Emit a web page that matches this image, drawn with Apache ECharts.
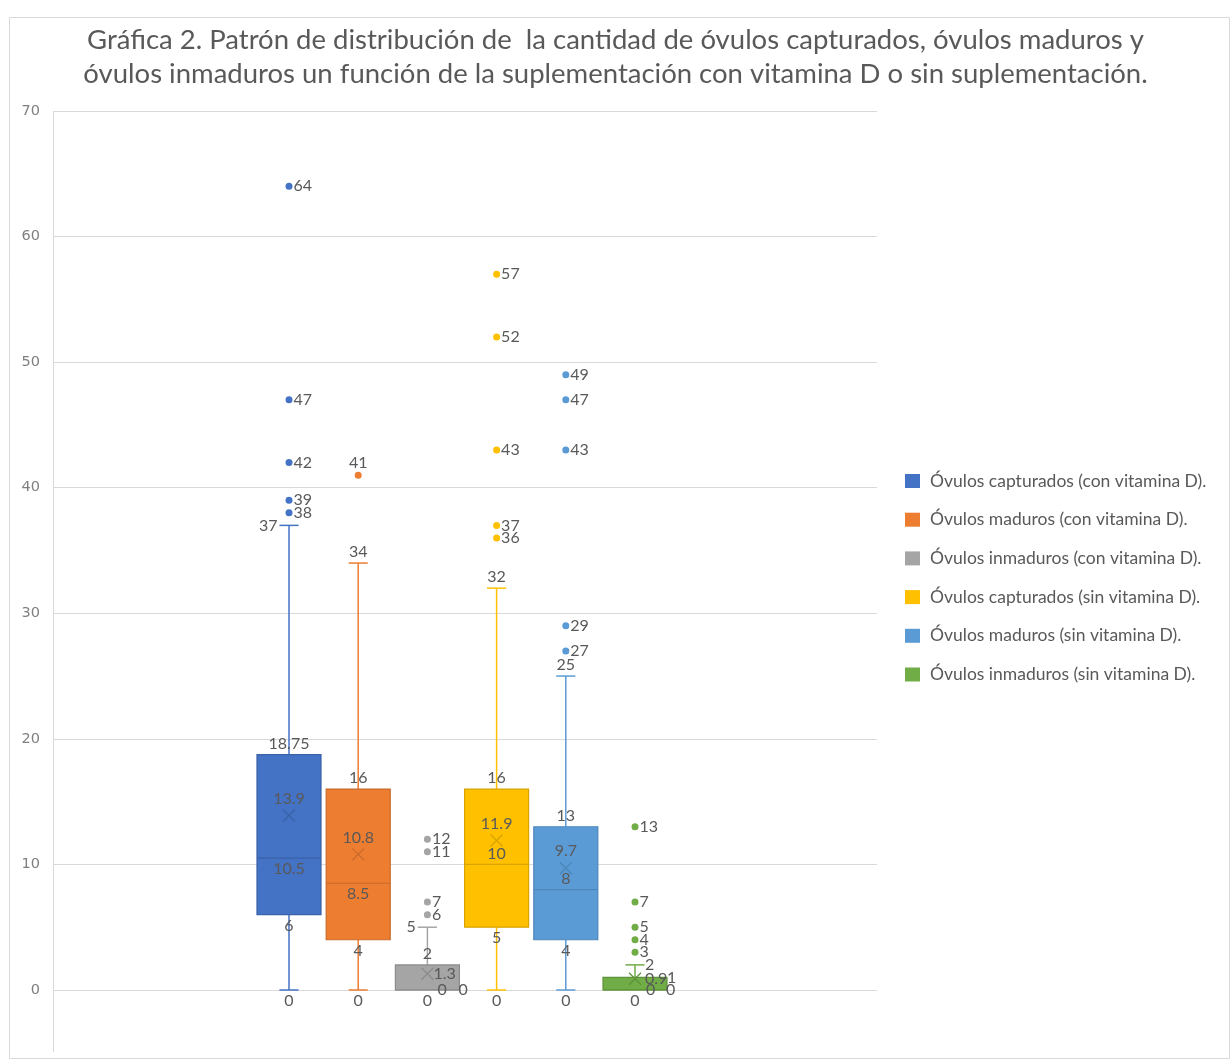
<!DOCTYPE html>
<html>
<head>
<meta charset="utf-8">
<title>Gráfica 2</title>
<script src="https://cdn.jsdelivr.net/npm/echarts@6.0.0/dist/echarts.min.js"></script>
<style>
  html, body { margin: 0; padding: 0; background: #ffffff; }
  #chart { width: 1231px; height: 1063px; }
</style>
</head>
<body>
<div id="chart"></div>
<script>
// Box groups (one per legend entry)
const groups = [
  'Óvulos capturados (con vitamina D).',
  'Óvulos maduros (con vitamina D).',
  'Óvulos inmaduros (con vitamina D).',
  'Óvulos capturados (sin vitamina D).',
  'Óvulos maduros (sin vitamina D).',
  'Óvulos inmaduros (sin vitamina D).'
];

// Five-number summaries and means per group
const whiskerLow  = [0, 0, 0, 0, 0, 0];
const quartile1   = [6, 4, 0, 5, 4, 0];
const medians     = [10.5, 8.5, 0, 10, 8, 0];
const quartile3   = [18.75, 16, 2, 16, 13, 1];
const whiskerHigh = [37, 34, 5, 32, 25, 2];
const means       = [13.9, 10.8, 1.3, 11.9, 9.7, 0.9];

// Outlying points per group
const outliers = [
  [38, 39, 42, 47, 64],
  [41],
  [6, 7, 11, 12],
  [36, 37, 43, 52, 57],
  [27, 29, 43, 47, 49],
  [3, 4, 5, 7, 13]
];

// Value axis ticks
const yMin = 0, yMax = 70, yStep = 10;

// ---- styling ----
const fills   = ['#4472C4', '#ED7D31', '#A5A5A5', '#FFC000', '#5B9BD5', '#70AD47'];
const strokes = ['#3A62A8', '#C9692A', '#8C8C8C', '#D9A400', '#4C86BA', '#5E9339'];
const labelColor = '#595959';
const labelFont = 'Lato, "Open Sans", sans-serif';

// where each statistic's label sits relative to its mark
const T = { side: 'top' }, B = { side: 'bottom' }, L = { side: 'left' };
const R = dx => ({ side: 'right', dx: dx });
const statLabelPlacement = [
  { max: L,     q3: T,     mean: { side: 'top', dy: 9 }, median: B,     q1: B,     min: B },
  { max: T,     q3: T,     mean: { side: 'top', dy: 9 }, median: B,     q1: B,     min: B },
  { max: L,     q3: T,     mean: R(6),                   median: R(10), q1: R(31), min: B },
  { max: T,     q3: T,     mean: { side: 'top', dy: 9 }, median: T,     q1: B,     min: B },
  { max: T,     q3: T,     mean: { side: 'top', dy: 9 }, median: T,     q1: B,     min: B },
  { max: R(10), q3: R(32), mean: R(10),                  median: R(11), q1: R(31), min: B }
];
const outlierLabelSide = ['right', 'top', 'right', 'right', 'right', 'right'];

function textEl(value, x, y, spec, halfCap) {
  let ax = x, ay = y, align = 'center', valign = 'middle';
  const dy = spec.dy || 3;
  if (spec.side === 'top') { ay = y - dy; valign = 'bottom'; }
  else if (spec.side === 'bottom') { ay = y + dy; valign = 'top'; }
  else if (spec.side === 'left') { ax = x - halfCap - 2; align = 'right'; }
  else if (spec.side === 'right') { ax = x + spec.dx; align = 'left'; }
  return {
    type: 'text', z2: 10,
    style: {
      x: ax, y: ay, text: String(value), align: align, verticalAlign: valign,
      fill: labelColor, fontSize: 16, fontFamily: labelFont
    }
  };
}

function lineEl(x1, y1, x2, y2, color, width) {
  return {
    type: 'line',
    shape: { x1: x1, y1: y1, x2: x2, y2: y2 },
    style: { stroke: color, lineWidth: width }
  };
}

function makeBoxRenderer(idx) {
  return function (params, api) {
    const cat = api.value(0);
    const yOf = v => api.coord([cat, v])[1];
    const x = api.coord([cat, api.value(3)])[0];
    const band = api.size([1, 0])[0];
    const halfBox = band * 0.4625;
    const halfCap = band * 0.138;
    const vMin = api.value(1), vQ1 = api.value(2), vMed = api.value(3),
          vQ3 = api.value(4), vMax = api.value(5), vMean = api.value(6);
    const pMin = yOf(vMin), pQ1 = yOf(vQ1), pMed = yOf(vMed),
          pQ3 = yOf(vQ3), pMax = yOf(vMax), pMean = yOf(vMean);
    const fill = fills[idx], stroke = strokes[idx];
    const kids = [];

    // whiskers with short caps
    if (vQ3 < vMax) {
      kids.push(lineEl(x, pQ3, x, pMax, fill, 1.5));
      kids.push(lineEl(x - halfCap, pMax, x + halfCap, pMax, fill, 1.5));
    }
    if (vMin < vQ1) {
      kids.push(lineEl(x, pQ1, x, pMin, fill, 1.5));
      kids.push(lineEl(x - halfCap, pMin, x + halfCap, pMin, fill, 1.5));
    }
    // interquartile box
    kids.push({
      type: 'rect',
      shape: { x: x - halfBox, y: pQ3, width: halfBox * 2, height: pQ1 - pQ3 },
      style: { fill: fill, stroke: stroke, lineWidth: 1.2 }
    });
    // median
    kids.push(lineEl(x - halfBox, pMed, x + halfBox, pMed, stroke, 1.2));
    // mean marker (×)
    const m = 6;
    kids.push(lineEl(x - m, pMean - m, x + m, pMean + m, stroke, 1.3));
    kids.push(lineEl(x - m, pMean + m, x + m, pMean - m, stroke, 1.3));

    // value labels
    const pl = statLabelPlacement[idx];
    kids.push(textEl(vMax, x, pMax, pl.max, halfCap));
    kids.push(textEl(vQ3, x, pQ3, pl.q3, halfCap));
    kids.push(textEl(vMean, x, pMean, pl.mean, halfCap));
    kids.push(textEl(vMed, x, pMed, pl.median, halfCap));
    kids.push(textEl(vQ1, x, pQ1, pl.q1, halfCap));
    kids.push(textEl(vMin, x, pMin, pl.min, halfCap));

    return { type: 'group', children: kids };
  };
}

const series = [];
groups.forEach(function (name, i) {
  series.push({
    name: name,
    type: 'custom',
    xAxisIndex: 1,
    yAxisIndex: 1,
    itemStyle: { color: fills[i] },
    encode: { x: 0, y: [1, 2, 3, 4, 5, 6] },
    data: [[i, whiskerLow[i], quartile1[i], medians[i], quartile3[i], whiskerHigh[i], means[i]]],
    renderItem: makeBoxRenderer(i),
    silent: true
  });
});
groups.forEach(function (name, i) {
  series.push({
    name: name,
    type: 'scatter',
    xAxisIndex: 1,
    yAxisIndex: 1,
    symbol: 'circle',
    symbolSize: 7,
    itemStyle: { color: fills[i], opacity: 1 },
    label: {
      show: true,
      position: outlierLabelSide[i],
      distance: 1,
      color: labelColor,
      fontSize: 16,
      fontFamily: labelFont,
      formatter: p => String(p.value[1])
    },
    data: outliers[i].map(v => [name, v]),
    silent: true
  });
});

const chart = echarts.init(document.getElementById('chart'), null, { renderer: 'canvas' });
chart.setOption({
  animation: false,
  backgroundColor: '#ffffff',
  color: fills,
  title: {
    text: 'Gráfica 2. Patrón de distribución de  la cantidad de óvulos capturados, óvulos maduros y\n' +
          'óvulos inmaduros un función de la suplementación con vitamina D o sin suplementación.',
    left: 'center',
    top: 23,
    padding: 0,
    textStyle: {
      fontFamily: labelFont,
      fontSize: 27.5,
      fontWeight: 'normal',
      color: labelColor,
      lineHeight: 34,
      align: 'center'
    }
  },
  legend: {
    orient: 'vertical',
    left: 900,
    top: 467,
    icon: 'rect',
    itemWidth: 15,
    itemHeight: 14,
    itemGap: 20.7,
    selectedMode: false,
    data: groups,
    textStyle: { fontFamily: labelFont, fontSize: 17.5, color: labelColor, padding: [0, 0, 0, 5] }
  },
  graphic: [
    {
      type: 'rect', silent: true, z: -1,
      shape: { x: 9.5, y: 17.5, width: 1220, height: 1041 },
      style: { fill: 'none', stroke: '#d9d9d9', lineWidth: 1 }
    },
    {
      type: 'line', silent: true, z: -1,
      shape: { x1: 53.5, y1: 111, x2: 53.5, y2: 1052 },
      style: { stroke: '#d9d9d9', lineWidth: 1 }
    }
  ],
  grid: [
    { left: 53, right: 354, top: 111, bottom: 73 },
    { left: 254.4, width: 415.2, top: 111, bottom: 73 }
  ],
  xAxis: [
    { type: 'category', gridIndex: 0, data: [''], show: false },
    { type: 'category', gridIndex: 1, data: groups, show: false }
  ],
  yAxis: [
    {
      type: 'value', gridIndex: 0, min: yMin, max: yMax, interval: yStep,
      axisLine: { show: false }, axisTick: { show: false },
      splitLine: { lineStyle: { color: '#d9d9d9', width: 1 } },
      axisLabel: { color: '#7f7f7f', fontSize: 14.5, fontFamily: '"DejaVu Sans", sans-serif', margin: 13 }
    },
    {
      type: 'value', gridIndex: 1, min: yMin, max: yMax, interval: yStep, show: false
    }
  ],
  series: series
});
</script>
</body>
</html>
